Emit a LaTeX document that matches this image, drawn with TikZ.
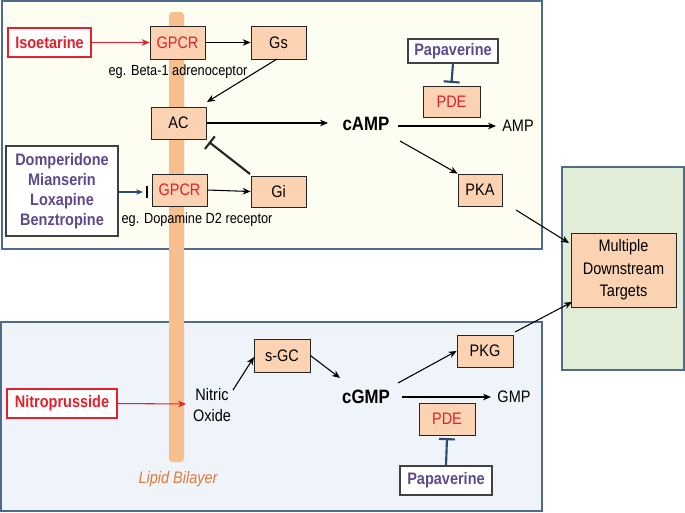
\documentclass[tikz,border=0pt]{standalone}
\usepackage{fontspec}
\setmainfont{Liberation Sans}[FakeStretch=0.87]
\usetikzlibrary{arrows.meta,calc}
\definecolor{panelborder}{HTML}{4F6B8C}
\definecolor{creamfill}{HTML}{FDFDF1}
\definecolor{bluefill}{HTML}{EFF3FA}
\definecolor{greenfill}{HTML}{E2EDD7}
\definecolor{peach}{HTML}{FBD3B3}
\definecolor{bilayer}{HTML}{F8BF8E}
\definecolor{drugred}{HTML}{E3202B}
\definecolor{drugpurple}{HTML}{5E4A8A}
\definecolor{inhblue}{HTML}{2E4A6E}
\definecolor{lipidtext}{HTML}{E07B39}
\tikzset{
  panel/.style={draw=panelborder, line width=1.3pt},
  enz/.style={draw=black!85, fill=peach, line width=0.6pt, inner sep=0pt, font=\fontsize{12.5}{14}\selectfont},
  reddrug/.style={draw=drugred, fill=white, line width=0.8pt, inner sep=0pt, text=drugred, font=\fontsize{12.5}{14}\selectfont\bfseries},
  purpdrug/.style={draw=black!75, fill=white, line width=0.8pt, inner sep=0pt, text=drugpurple, font=\fontsize{12.5}{15}\selectfont\bfseries, align=center},
  lbl/.style={inner sep=0pt, font=\fontsize{11}{13}\selectfont},
  plain/.style={inner sep=0pt, font=\fontsize{12.5}{14}\selectfont, align=center},
  msg/.style={inner sep=0pt, font=\fontsize{14.5}{16}\selectfont\bfseries},
  act/.style={-{Stealth[length=6pt,width=5pt]}, line width=0.8pt, black},
  redact/.style={-{Stealth[length=6pt,width=5pt]}, line width=0.8pt, drugred},
  inh/.style={-{Bar[width=12pt]}, line width=1.6pt, inhblue},
}
\begin{document}
\begin{tikzpicture}[x=0.75pt,y=-0.75pt]
\useasboundingbox (0,0) rectangle (685,512);
% panels
\draw[panel, fill=creamfill] (2,1) rectangle (542,249);
\draw[panel, fill=bluefill] (1,322) rectangle (542,511);
\draw[panel, fill=greenfill] (562,167) rectangle (684,370);
% lipid bilayer
\fill[bilayer, rounded corners=2.5pt] (169,12) rectangle (184,462);
\node[inner sep=0pt, text=lipidtext, font=\fontsize{12.5}{14}\selectfont\itshape] (lipid) at (178,479) {Lipid Bilayer};

% top panel nodes
\node[reddrug, minimum width=83*0.75pt, minimum height=29*0.75pt] (iso) at (49.5,42.5) {Isoetarine};
\node[enz, text=drugred, minimum width=55*0.75pt, minimum height=33*0.75pt] (gpcr1) at (177.5,42.5) {GPCR};
\node[enz, minimum width=55*0.75pt, minimum height=33*0.75pt] (gs) at (278.5,42.5) {Gs};
\node[lbl] (beta) at (178,72) {eg. Beta-1 adrenoceptor};
\node[enz, minimum width=55*0.75pt, minimum height=32*0.75pt] (ac) at (178.5,123) {AC};
\node[msg] (camp) at (366,124) {cAMP};
\node[purpdrug, minimum width=112*0.75pt, minimum height=90*0.75pt] (domp) at (62,191) {Domperidone\\Mianserin\\Loxapine\\Benztropine};
\node[enz, text=drugred, minimum width=55*0.75pt, minimum height=32*0.75pt] (gpcr2) at (179.5,190) {GPCR};
\node[enz, minimum width=55*0.75pt, minimum height=31*0.75pt] (gi) at (278.5,191.5) {Gi};
\node[lbl] (dopa) at (197,220) {eg. Dopamine D2 receptor};
\node[purpdrug, minimum width=90*0.75pt, minimum height=24*0.75pt] (pap1) at (453,51) {Papaverine};
\node[enz, text=drugred, minimum width=57*0.75pt, minimum height=31*0.75pt] (pde1) at (451.5,101.5) {PDE};
\node[plain] (amp) at (518,126) {AMP};
\node[enz, minimum width=44*0.75pt, minimum height=32*0.75pt] (pka) at (480,190) {PKA};

% green panel node
\node[enz, align=center, minimum width=105*0.75pt, minimum height=74*0.75pt, font=\fontsize{12.5}{17}\selectfont] (mdt) at (623.5,270) {Multiple\\Downstream\\Targets};

% bottom panel nodes
\node[reddrug, minimum width=110*0.75pt, minimum height=29*0.75pt] (nitro) at (62,403.5) {Nitroprusside};
\node[plain, font=\fontsize{12.5}{16}\selectfont] (no) at (212,405) {Nitric\\Oxide};
\node[enz, minimum width=56*0.75pt, minimum height=33*0.75pt] (sgc) at (282,355.5) {s-GC};
\node[msg] (cgmp) at (366,397) {cGMP};
\node[enz, minimum width=56*0.75pt, minimum height=32*0.75pt] (pkg) at (485,351) {PKG};
\node[plain] (gmp) at (514,397) {GMP};
\node[enz, text=drugred, minimum width=56*0.75pt, minimum height=32*0.75pt] (pde2) at (447,419) {PDE};
\node[purpdrug, minimum width=92*0.75pt, minimum height=29*0.75pt] (pap2) at (446,480.5) {Papaverine};

% coordinates for connector ends
\coordinate (gsout) at (277,59);
\coordinate (acin) at (207,102);
\coordinate (giout) at (250,174);
\coordinate (acinh) at (209,142);
\coordinate (campin) at (328,123);
\coordinate (campr) at (398,126);
\coordinate (ampin) at (496,126);
\coordinate (campd) at (400,141);
\coordinate (pkaout) at (516,210);
\coordinate (mdtin1) at (569,243);
\coordinate (noout) at (233,390);
\coordinate (sgcin) at (254,357);
\coordinate (cgmpin) at (340,378);
\coordinate (cgmpu) at (398,383);
\coordinate (cgmpr) at (402,397);
\coordinate (gmpin) at (491,397);
\coordinate (pkgout) at (515,332);
\coordinate (mdtin2) at (572,302);
\coordinate (nitroend) at (186,404);
\coordinate (dompend) at (143,192);
\coordinate (dompbar) at (147,192);

% connectors
\draw[redact] (iso.east) -- (gpcr1.west);
\draw[act] (gpcr1.east) -- (gs.west);
\draw[act] (gsout) -- (acin);
\draw[act] (ac.east) -- (campin);
\draw[act] (campr) -- (ampin);
\draw[act] (campd) -- (pka.north west);
\draw[act] (pkaout) -- (mdtin1);
\draw[act] (gpcr2.east) -- (gi.west);
\draw[-{Bar[width=12pt]}, line width=1.6pt, black!85] (giout) -- (acinh);
\draw[-{Stealth[length=5pt,width=4pt]}, line width=0.8pt, inhblue] (domp.east |- dompend) -- (dompend);
\draw[line width=1pt, black] ($(dompbar)+(0,-6)$) -- ($(dompbar)+(0,6)$);
\draw[inh] (pap1.south) -- ([yshift=2pt]pde1.north);
% bottom
\draw[redact] (nitro.east) -- (nitroend);
\draw[act] (noout) -- (sgcin);
\draw[act] (sgc.east) -- (cgmpin);
\draw[act] (cgmpu) -- (pkg.west);
\draw[act] (cgmpr) -- (gmpin);
\draw[act] (pkgout) -- (mdtin2);
\draw[inh] (pap2.north) -- ([yshift=-2pt]pde2.south);
\end{tikzpicture}
\end{document}
